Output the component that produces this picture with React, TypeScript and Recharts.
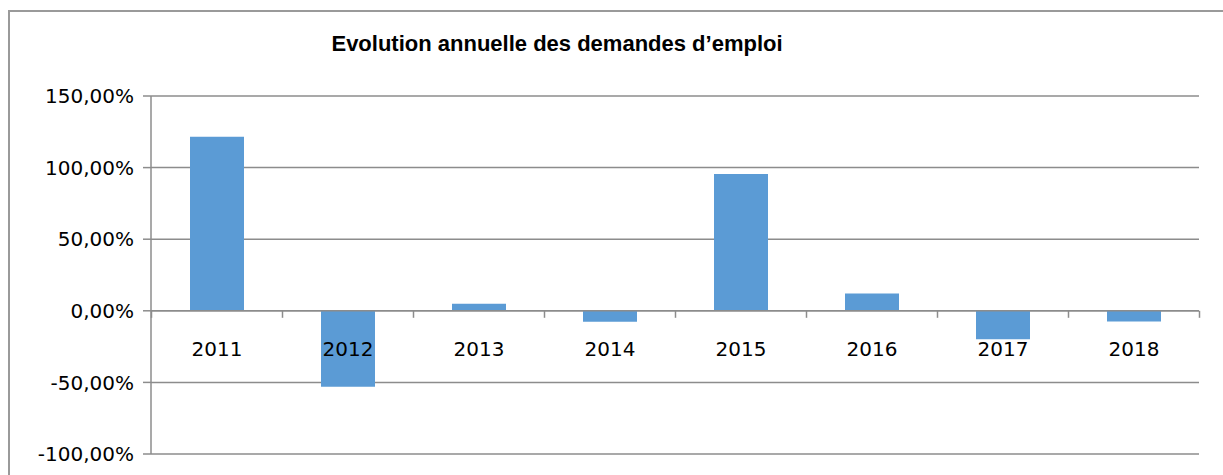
import { BarChart, Bar, XAxis, YAxis, CartesianGrid, LabelList, ReferenceLine } from "recharts";

const years = ["2011", "2012", "2013", "2014", "2015", "2016", "2017", "2018"];
const evolution = [121.5, -53, 5, -7.7, 95.5, 12, -19.8, -7.5];
const yTicks = [-100, -50, 0, 50, 100, 150];

const data = years.map((year, i) => ({ year, value: evolution[i] }));

const CHART_W = 1200;
const CHART_H = 463;
const MARGIN = { top: 84, right: 11, left: 11, bottom: 21 };
const Y_AXIS_W = 130;
const PLOT_W = CHART_W - MARGIN.left - MARGIN.right - Y_AXIS_W;
const BAND = PLOT_W / years.length;
const GRID = "#8c8c8c";
const BAR = "#5b9bd5";
const FONT = "'DejaVu Sans', sans-serif";

const fmtPct = (v: number) => `${v.toFixed(2).replace(".", ",")}%`;

// Excel puts the category axis on the zero line, so labels and ticks are drawn
// from the bar geometry (zero line = bar base) instead of the chart bottom.
function CategoryLabel(props: any) {
  const { x, y, width, height, value, index } = props;
  const zeroY = value < 0 && height > 0 ? y : y + height;
  const cx = x + width / 2;
  const left = cx - BAND / 2;
  return (
    <g>
      <line x1={left} x2={left} y1={zeroY} y2={zeroY + 7} stroke={GRID} strokeWidth={1.5} />
      {index === years.length - 1 && (
        <line x1={left + BAND} x2={left + BAND} y1={zeroY} y2={zeroY + 7} stroke={GRID} strokeWidth={1.5} />
      )}
      <text x={cx} y={zeroY + 45} textAnchor="middle" fontSize={20} fontFamily={FONT} fill="#000">
        {years[index]}
      </text>
    </g>
  );
}

export default function App() {
  return (
    <div style={{ position: "fixed", left: 0, top: 0, width: 1223, height: 475, overflow: "hidden", background: "#fff" }}>
      <div
        style={{
          position: "absolute",
          left: 8,
          top: 10,
          width: 1240,
          height: 480,
          borderLeft: "2px solid #9a9a9a",
          borderTop: "2px solid #9a9a9a",
        }}
      >
        <BarChart width={CHART_W} height={CHART_H} data={data} margin={MARGIN} accessibilityLayer={false}>
          <text x={547} y={39} textAnchor="middle" fontSize={22} fontWeight="bold" fontFamily="'Liberation Sans', sans-serif" fill="#000">
            Evolution annuelle des demandes d’emploi
          </text>
          <CartesianGrid vertical={false} stroke={GRID} strokeWidth={1.5} />
          <XAxis dataKey="year" hide />
          <YAxis
            width={Y_AXIS_W}
            domain={[-100, 150]}
            ticks={yTicks}
            tickFormatter={fmtPct}
            axisLine={{ stroke: GRID, strokeWidth: 1.5 }}
            tickLine={{ stroke: GRID, strokeWidth: 1.5 }}
            tickSize={8}
            tickMargin={9}
            tick={{ fill: "#000", fontSize: 20, fontFamily: FONT }}
          />
          <ReferenceLine y={0} stroke={GRID} strokeWidth={1.5} />
          <Bar dataKey="value" fill={BAR} barSize={54} isAnimationActive={false}>
            <LabelList dataKey="value" content={CategoryLabel} />
          </Bar>
        </BarChart>
      </div>
    </div>
  );
}
